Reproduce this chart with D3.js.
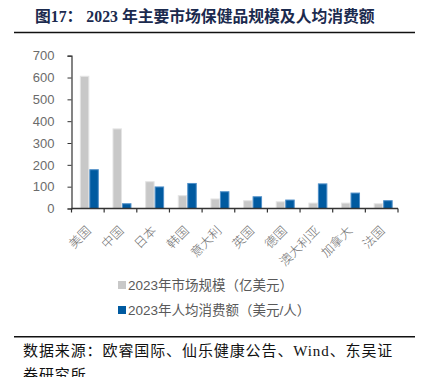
<!DOCTYPE html>
<html><head><meta charset="utf-8">
<script src="https://cdn.jsdelivr.net/npm/d3@7"></script>
<style>
html,body{margin:0;padding:0;background:#fff;}
svg{display:block;}
</style></head>
<body>
<svg id="chart" width="428" height="377"></svg>
<script>
const categories = ["美国","中国","日本","韩国","意大利","英国","德国","澳大利亚","加拿大","法国"];
const seriesNames = ["2023年市场规模（亿美元）","2023年人均消费额（美元/人）"];
const marketSize = [608, 367, 125, 61, 46, 38, 33, 27, 27, 24];
const perCapita = [180, 24, 101, 117, 79, 56, 41, 115, 73, 38];
const yTicks = [0,100,200,300,400,500,600,700];
const colors = ["#c8c8c8","#005aa0"];
const strokes = ["#e4e4e4","#4f8fc8"];
const title = "图17：  2023 年主要市场保健品规模及人均消费额";
const source1 = "数据来源：欧睿国际、仙乐健康公告、Wind、东吴证";
const source2 = "券研究所";

const svg = d3.select("#chart");
const cjk = "'Liberation Sans','Noto Sans CJK SC',sans-serif";
const serif = "'Liberation Serif','Noto Sans CJK SC',serif";

// title
svg.append("text").attr("x",35).attr("y",22)
  .attr("font-family",serif).attr("font-weight","bold").attr("font-size",15.8)
  .attr("fill","#1b2a4e").text(title);
svg.append("line").attr("x1",14).attr("x2",415).attr("y1",32.5).attr("y2",32.5)
  .attr("stroke","#111").attr("stroke-width",1.6);

const x0 = d3.scaleBand().domain(categories).range([71.5,398]).paddingInner(0).paddingOuter(0);
const x1 = d3.scaleBand().domain([0,1]).range([0,x0.bandwidth()]).paddingInner(0).paddingOuter(0.72);
const y = d3.scaleLinear().domain([0,700]).range([208.5,55.7]);

const data = categories.map((c,i)=>({c, v:[marketSize[i], perCapita[i]]}));

const g = svg.append("g");
g.selectAll("g.cat").data(data).join("g").attr("class","cat")
  .attr("transform",d=>`translate(${x0(d.c)+1.5},0)`)
  .selectAll("rect").data(d=>d.v.map((v,k)=>({v,k}))).join("rect")
  .attr("x",d=>x1(d.k)+0.5).attr("width",x1.bandwidth()-1)
  .attr("y",d=>y(d.v)+0.5).attr("height",d=>y(0)-y(d.v)-0.5)
  .attr("fill",d=>colors[d.k]).attr("stroke",d=>strokes[d.k]).attr("stroke-width",1);

// y axis
const ya = svg.append("g").attr("transform","translate(71.5,0)")
  .call(d3.axisLeft(y).tickValues(yTicks).tickSize(4).tickPadding(13).tickFormat(d3.format("d")));
ya.select(".domain").attr("stroke","#333").attr("stroke-width",1.2);
ya.selectAll(".tick line").attr("stroke","#333");
ya.selectAll(".tick text").attr("font-family","'Liberation Sans',Arial,sans-serif").attr("font-size",13).attr("fill","#6b6b6b");

// x axis
const xa = svg.append("g");
xa.append("line").attr("x1",71.5).attr("x2",398).attr("y1",y(0)).attr("y2",y(0)).attr("stroke","#333").attr("stroke-width",1.4);
const bounds = categories.map(c=>x0(c)).concat([x0(categories[categories.length-1])+x0.bandwidth()]);
xa.selectAll("line.tk").data(bounds).join("line").attr("class","tk")
  .attr("x1",d=>d).attr("x2",d=>d).attr("y1",y(0)).attr("y2",y(0)+4).attr("stroke","#333").attr("stroke-width",1.2);
xa.selectAll("text").data(categories).join("text")
  .attr("transform",d=>`translate(${x0(d)+x0.bandwidth()/2+4},${y(0)+23}) rotate(-45)`)
  .attr("text-anchor","end").attr("font-family","'Noto Sans CJK SC',sans-serif").attr("font-size",12.5)
  .attr("font-weight",300).attr("fill","#707070").text(d=>d);

// legend
const lg = svg.append("g");
seriesNames.forEach((s,k)=>{
  const yy = 285 + k*25;
  lg.append("rect").attr("x",118).attr("y",yy-4).attr("width",8).attr("height",8).attr("fill",colors[k]);
  lg.append("text").attr("x",128).attr("y",yy+5).attr("font-family",cjk).attr("font-size",13.5)
    .attr("fill","#595959").text(s);
});

// source
svg.append("line").attr("x1",14).attr("x2",415).attr("y1",336.7).attr("y2",336.7)
  .attr("stroke","#111").attr("stroke-width",1.6);
svg.append("text").attr("x",23).attr("y",356).attr("font-family",serif).attr("font-size",15)
  .attr("letter-spacing",0.9).attr("fill","#111").text(source1);
svg.append("text").attr("x",23).attr("y",380).attr("font-family",serif).attr("font-size",15)
  .attr("letter-spacing",0.9).attr("fill","#111").text(source2);
</script>
</body></html>
